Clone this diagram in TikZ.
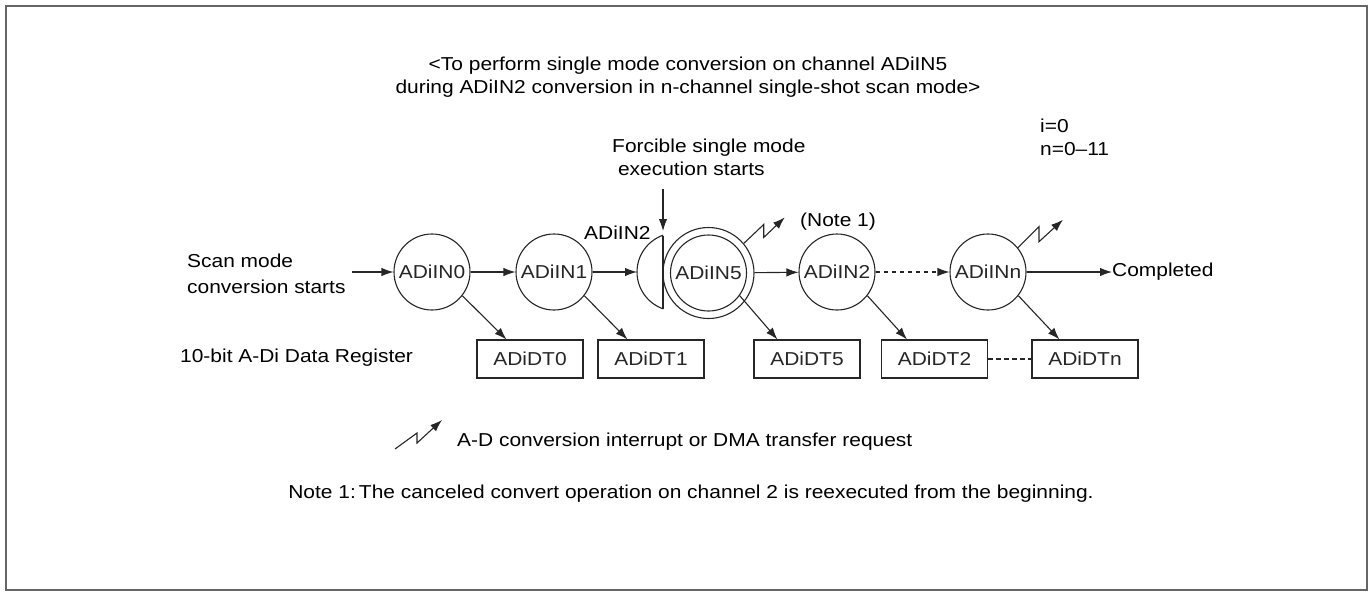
\documentclass[tikz,border=0pt]{standalone}
\usepackage{fontspec}
\setmainfont{Liberation Sans}[FakeStretch=1.12]
\usetikzlibrary{arrows.meta,calc}
\begin{document}
\begin{tikzpicture}[x=1pt,y=-1pt,
  every node/.style={font=\fontsize{18.7}{23}\selectfont},
  line/.style={line width=1.1pt,black!85},
  arr/.style={line,-{Latex[length=12pt,width=8.5pt]}},
  chan/.style={circle,draw,line width=1.1pt,black!85,minimum size=76pt,inner sep=0pt},
  reg/.style={rectangle,draw,line width=1.1pt,black!85,minimum width=106pt,minimum height=38pt,inner sep=0pt},
  txt/.style={inner sep=0pt,align=left},
  zap/.style={line,-{Latex[length=12pt,width=8.5pt]}}]
\useasboundingbox (0,0) rectangle (1372,592);
\draw[line width=1.5pt,black!60] (6,6) rectangle (1367,590);
% title
\node[txt,align=center] (title) at (688,77) {<To perform single mode conversion on channel ADiIN5\\ during ADiIN2 conversion in n-channel single-shot scan mode>};
\node[txt,anchor=base west] (iz) at (1040,132) {i=0};
\node[txt,anchor=base west] (nz) at (1040,155) {n=0–11};
% forcible
\node[txt,anchor=base west] (force) at (612,175) {Forcible single mode\\ \ execution starts};
\coordinate (fs) at (663,189);
\coordinate (fe) at (663,231);
\draw[arr] (fs) -- (fe);
% channels
\node[chan] (c0) at (432,272) {ADiIN0};
\node[chan] (c1) at (554,272) {ADiIN1};
\node[circle,draw,line width=1.1pt,black!85,minimum size=91pt,inner sep=0pt] (c5) at (708.5,273) {};
\node[chan] (c5i) at (708.5,273) {ADiIN5};
\node[chan] (c2) at (837,272) {ADiIN2};
\node[chan] (cn) at (988,272) {ADiINn};
% cut ADiIN2
\begin{scope}
\clip (620,220) rectangle (663,320);
\draw[line] (676,272) circle (39pt);
\end{scope}
\coordinate (h2t) at (663,235.5);
\coordinate (h2b) at (663,308.5);
\draw[line] (h2t) -- (h2b);
\coordinate (h2w) at (637,272);
\node[txt,anchor=base west] (h2l) at (584,239) {ADiIN2};
\node[txt,anchor=base west] (note1) at (800,226) {(Note 1)};
% left labels
\node[txt,anchor=base west] (scan) at (187,293) {Scan mode\\[3pt]conversion starts};
\coordinate (sa) at (352,272);
\node[txt,anchor=base west] (dreg) at (180,362) {10-bit A-Di Data Register};
% flow arrows
\draw[arr] (sa) -- (c0);
\draw[arr] (c0) -- (c1);
\draw[arr] (c1) -- (h2w);
\draw[arr] (c5) -- (c2);
\draw[arr,dash pattern=on 4.5pt off 3.5pt] (c2) -- (cn);
\node[txt,anchor=west] (done) at (1112,272) {Completed};
\draw[arr] (cn) -- (done.west);
% registers
\node[reg] (d0) at (530,359) {ADiDT0};
\node[reg] (d1) at (651,359) {ADiDT1};
\node[reg] (d5) at (807,359) {ADiDT5};
\node[reg] (d2) at (934.5,359) {ADiDT2};
\node[reg] (dn) at (1085,359) {ADiDTn};
\draw[line,dash pattern=on 4.5pt off 3.5pt] (d2) -- (dn);
\draw[arr] (c0.-38) -- ($(d0.north west)+(30,0)$);
\draw[arr] (c1.-38) -- ($(d1.north west)+(30,0)$);
\draw[arr] (c5i.-36) -- ($(d5.north west)+(24,0)$);
\draw[arr] (c2.-38) -- ($(d2.north west)+(26,0)$);
\draw[arr] (cn.-38) -- ($(dn.north west)+(28,0)$);
% interrupts
\draw[zap] (c5.40) -- ++(20,-19) -- ++(0,13) -- ++(21,-20);
\draw[zap] (cn.39) -- ++(21,-21) -- ++(0,15) -- ++(24,-22);
% legend
\coordinate (lg) at (395,449);
\draw[zap] (lg) -- ++(22,-16) -- ++(0,10) -- ++(25,-23);
\node[txt,anchor=base west] (lgt) at (457,446) {A-D conversion interrupt or DMA transfer request};
% note
\node[txt] (note) at (691,494) {Note 1:\,The canceled convert operation on channel 2 is reexecuted from the beginning.};
\end{tikzpicture}
\end{document}
